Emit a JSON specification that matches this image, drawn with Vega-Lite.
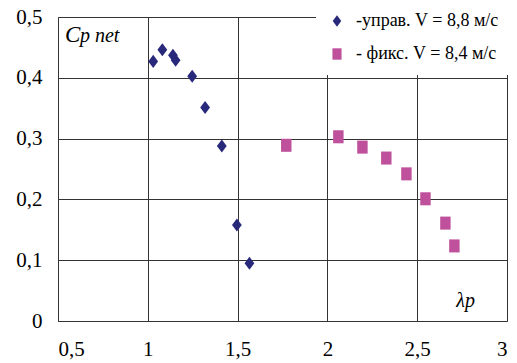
{
  "$schema": "https://vega.github.io/schema/vega-lite/v6.json",
  "width": 449,
  "height": 304,
  "autosize": "none",
  "padding": {"left": 58, "top": 17, "right": 10, "bottom": 42},
  "background": "white",
  "config": {
    "view": {"stroke": null},
    "axis": {
      "grid": true,
      "gridColor": "#333333",
      "gridOpacity": 1,
      "gridWidth": 1,
      "domainColor": "#333333",
      "domainWidth": 1,
      "ticks": false,
      "labelFont": "Liberation Serif",
      "labelFontSize": 21,
      "labelColor": "black",
      "title": null
    }
  },
  "layer": [
    {
      "data": {
        "values": [
          {"lambda": 1.03, "cp": 0.427, "series": "-управ. V = 8,8 м/с"},
          {"lambda": 1.081, "cp": 0.446, "series": "-управ. V = 8,8 м/с"},
          {"lambda": 1.14, "cp": 0.437, "series": "-управ. V = 8,8 м/с"},
          {"lambda": 1.155, "cp": 0.429, "series": "-управ. V = 8,8 м/с"},
          {"lambda": 1.247, "cp": 0.4025, "series": "-управ. V = 8,8 м/с"},
          {"lambda": 1.319, "cp": 0.351, "series": "-управ. V = 8,8 м/с"},
          {"lambda": 1.412, "cp": 0.288, "series": "-управ. V = 8,8 м/с"},
          {"lambda": 1.496, "cp": 0.158, "series": "-управ. V = 8,8 м/с"},
          {"lambda": 1.566, "cp": 0.095, "series": "-управ. V = 8,8 м/с"},
          {"lambda": 1.771, "cp": 0.289, "series": "- фикс. V = 8,4 м/с"},
          {"lambda": 2.061, "cp": 0.303, "series": "- фикс. V = 8,4 м/с"},
          {"lambda": 2.195, "cp": 0.286, "series": "- фикс. V = 8,4 м/с"},
          {"lambda": 2.328, "cp": 0.268, "series": "- фикс. V = 8,4 м/с"},
          {"lambda": 2.44, "cp": 0.242, "series": "- фикс. V = 8,4 м/с"},
          {"lambda": 2.546, "cp": 0.201, "series": "- фикс. V = 8,4 м/с"},
          {"lambda": 2.657, "cp": 0.161, "series": "- фикс. V = 8,4 м/с"},
          {"lambda": 2.707, "cp": 0.1235, "series": "- фикс. V = 8,4 м/с"}
        ]
      },
      "mark": {"type": "point", "filled": true, "opacity": 1, "size": 170, "strokeWidth": 0},
      "encoding": {
        "x": {
          "field": "lambda",
          "type": "quantitative",
          "scale": {"domain": [0.5, 3], "nice": false, "zero": false},
          "axis": {
            "values": [0.5, 1, 1.5, 2, 2.5, 3],
            "labelExpr": "replace(format(datum.value, '~g'), '.', ',')",
            "labelFont": "Liberation Serif",
            "labelPadding": 17
          }
        },
        "y": {
          "field": "cp",
          "type": "quantitative",
          "scale": {"domain": [0, 0.5], "nice": false, "zero": false},
          "axis": {
            "values": [0, 0.1, 0.2, 0.3, 0.4, 0.5],
            "labelExpr": "replace(format(datum.value, '~g'), '.', ',')",
            "labelFont": "Liberation Serif",
            "labelPadding": 16
          }
        },
        "color": {
          "field": "series",
          "type": "nominal",
          "scale": {
            "domain": ["-управ. V = 8,8 м/с", "- фикс. V = 8,4 м/с"],
            "range": ["#28297A", "#BF519C"]
          },
          "legend": {
            "title": null,
            "orient": "none",
            "legendX": 258,
            "legendY": -17,
            "fillColor": "white",
            "padding": 12,
            "rowPadding": 15,
            "labelFont": "Liberation Serif",
            "labelFontSize": 18,
            "labelColor": "black",
            "labelLimit": 400,
            "labelOffset": 10,
            "symbolSize": 130,
            "symbolStrokeWidth": 0
          }
        },
        "shape": {
          "field": "series",
          "type": "nominal",
          "scale": {
            "domain": ["-управ. V = 8,8 м/с", "- фикс. V = 8,4 м/с"],
            "range": ["M0,-1L0.75,0L0,1L-0.75,0Z", "M-0.8,-1L0.8,-1L0.8,1L-0.8,1Z"]
          },
          "legend": {"title": null}
        }
      }
    },
    {
      "data": {"values": [{"x": 0.539, "y": 0.4585, "t": "C"}]},
      "mark": {"type": "text", "font": "Liberation Serif", "fontStyle": "oblique", "fontSize": 23, "align": "left", "baseline": "alphabetic", "color": "black"},
      "encoding": {
        "x": {"field": "x", "type": "quantitative"},
        "y": {"field": "y", "type": "quantitative"},
        "text": {"field": "t"}
      }
    },
    {
      "data": {"values": [{"x": 0.622, "y": 0.4585, "t": "p net"}]},
      "mark": {"type": "text", "font": "Liberation Serif", "fontStyle": "oblique", "fontSize": 20, "align": "left", "baseline": "alphabetic", "color": "black"},
      "encoding": {
        "x": {"field": "x", "type": "quantitative"},
        "y": {"field": "y", "type": "quantitative"},
        "text": {"field": "t"}
      }
    },
    {
      "data": {"values": [{"x": 2.718, "y": 0.0224, "t": "λp"}]},
      "mark": {"type": "text", "font": "Liberation Serif", "fontStyle": "oblique", "fontSize": 20, "align": "left", "baseline": "alphabetic", "color": "black"},
      "encoding": {
        "x": {"field": "x", "type": "quantitative"},
        "y": {"field": "y", "type": "quantitative"},
        "text": {"field": "t"}
      }
    }
  ]
}
